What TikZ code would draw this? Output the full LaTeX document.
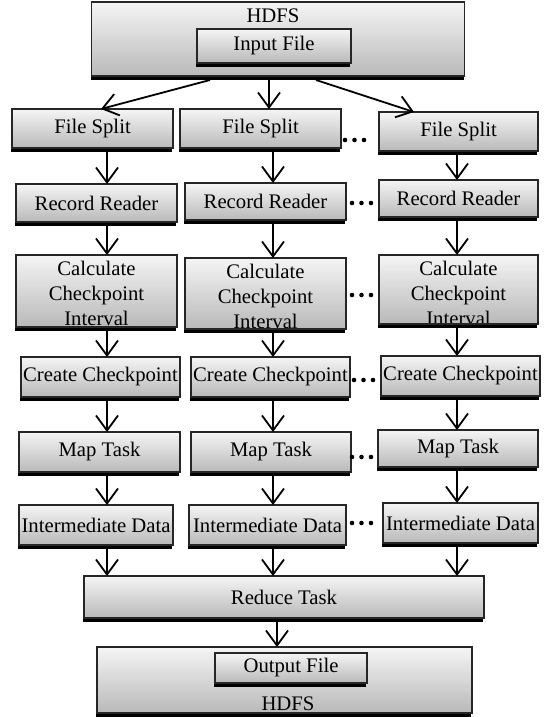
\documentclass[tikz,border=0pt]{standalone}
\usepackage{fontspec}
\setmainfont{Liberation Serif}
\usetikzlibrary{arrows.meta,shadows,calc}

\tikzset{
  flowbox/.style={draw=black!85, line width=1.1pt, top color=gray!8, bottom color=gray!55,
    general shadow={fill=black, shadow xshift=-1pt, shadow yshift=-4pt},
    inner sep=0pt, outer sep=0pt},
  lbl/.style={font=\fontsize{20.7}{25}\selectfont, align=center, inner sep=0pt},
  flow/.style={line width=1.8pt, -{Straight Barb[length=15pt,width=22pt,line width=1.8pt]}},
  sepdot/.style={circle, fill=black, inner sep=0pt, minimum size=4.6pt},
}

% box: name, centre x, centre y, width, height, text
\newcommand\flowstep[6]{%
  \node[flowbox, minimum width=#4pt, minimum height=#5pt] (#1) at (#2,#3) {};
  \node[lbl] (#1-t) at (#1.center) {#6};
}
% three-line box whose text starts just below the top edge
\newcommand\tallstep[6]{%
  \node[flowbox, minimum width=#4pt, minimum height=#5pt] (#1) at (#2,#3) {};
  \node[lbl, anchor=north] (#1-t) at ($(#1.north)+(0,6)$) {#6};
  \draw[draw=black!85, line width=1.1pt] (#1.south west) -- (#1.south east);
}
% three dots between two columns
\newcommand\gapdots[3]{%
  \node[sepdot] (#1-a) at (#2,#3) {};
  \node[sepdot] (#1-b) at (#2+9.5,#3) {};
  \node[sepdot] (#1-c) at (#2+19,#3) {};
}

\begin{document}
\begin{tikzpicture}[x=1pt, y=-1pt]
\useasboundingbox (0,0) rectangle (551,717);

% column lines for the vertical connectors
\coordinate (c1) at (107,0);
\coordinate (c2) at (273,0);
\coordinate (c3) at (457,0);

% input storage
\flowstep{hdfs}{278}{39}{373}{74}{}
\node[lbl, anchor=base] (hdfs-t) at (273,23) {HDFS};
\flowstep{inp}{274}{46}{154}{34}{Input File}

% file splits
\flowstep{fs1}{92.5}{128.5}{161}{39}{File Split}
\flowstep{fs2}{260.5}{128.5}{161}{39}{File Split}
\flowstep{fs3}{458.5}{131.5}{159}{39}{File Split}
\gapdots{d1}{345}{140}

% record readers
\flowstep{rr1}{96.5}{203}{161}{38}{Record Reader}
\flowstep{rr2}{265.5}{201.5}{161}{37}{Record Reader}
\flowstep{rr3}{458.5}{198.5}{159}{37}{Record Reader}
\gapdots{d2}{352}{203}

% checkpoint interval
\tallstep{ci1}{96.5}{291}{161}{72}{Calculate\\Checkpoint\\Interval}
\tallstep{ci2}{265.5}{293.5}{161}{71}{Calculate\\Checkpoint\\Interval}
\tallstep{ci3}{458.5}{289.5}{159}{69}{Calculate\\Checkpoint\\Interval}
\gapdots{d3}{352}{295}

% create checkpoint
\flowstep{cc1}{100.5}{377}{159}{40}{Create Checkpoint}
\flowstep{cc2}{270.5}{377}{159}{40}{Create Checkpoint}
\flowstep{cc3}{460.5}{376}{159}{40}{Create Checkpoint}
\gapdots{d4}{354}{380}

% map tasks
\flowstep{mt1}{99.5}{452}{161}{40}{Map Task}
\flowstep{mt2}{271}{452}{160}{40}{Map Task}
\flowstep{mt3}{458}{448.5}{160}{37}{Map Task}
\gapdots{d5}{352}{457}

% intermediate data
\flowstep{id1}{96}{525}{154}{40}{Intermediate Data}
\flowstep{id2}{267.5}{525}{157}{40}{Intermediate Data}
\flowstep{id3}{460.5}{523}{155}{40}{Intermediate Data}
\gapdots{d6}{352}{523}

% reduce
\flowstep{red}{284}{597}{400}{42}{Reduce Task}

% output storage
\flowstep{outh}{284.5}{680}{375}{66}{}
\flowstep{outf}{291}{668}{152}{30}{Output File}
\node[lbl, anchor=base] (outh-t) at (288,710) {HDFS};

% connectors from the input storage
\draw[flow] ($(hdfs.south)+(-68,4)$) -- ($(fs1.north)+(8.5,0)$);
\draw[flow] ($(hdfs.south)+(-9,4)$) -- (fs2.north -| 269,0);
\draw[flow] ($(hdfs.south)+(38,4)$) -- ($(fs3.north)+(-44.5,0)$);

% vertical connectors in each column
\foreach \a/\b/\c in {fs1/rr1/c1, rr1/ci1/c1, ci1/cc1/c1, cc1/mt1/c1, mt1/id1/c1,
                      fs2/rr2/c2, rr2/ci2/c2, ci2/cc2/c2, cc2/mt2/c2, mt2/id2/c2,
                      fs3/rr3/c3, rr3/ci3/c3, ci3/cc3/c3, cc3/mt3/c3, mt3/id3/c3}
  \draw[flow] ($(\a.south -| \c)+(0,4)$) -- (\b.north -| \c);

% into the reducer
\draw[flow] ($(id1.south -| c1)+(0,4)$) -- (red.north -| c1);
\draw[flow] ($(id2.south -| c2)+(0,4)$) -- (red.north -| c2);
\draw[flow] ($(id3.south -| c3)+(0,4)$) -- (red.north -| c3);

% reducer to output
\draw[flow] ($(red.south)+(-7,4)$) -- ($(outh.north)+(-7.5,0)$);
\end{tikzpicture}
\end{document}
